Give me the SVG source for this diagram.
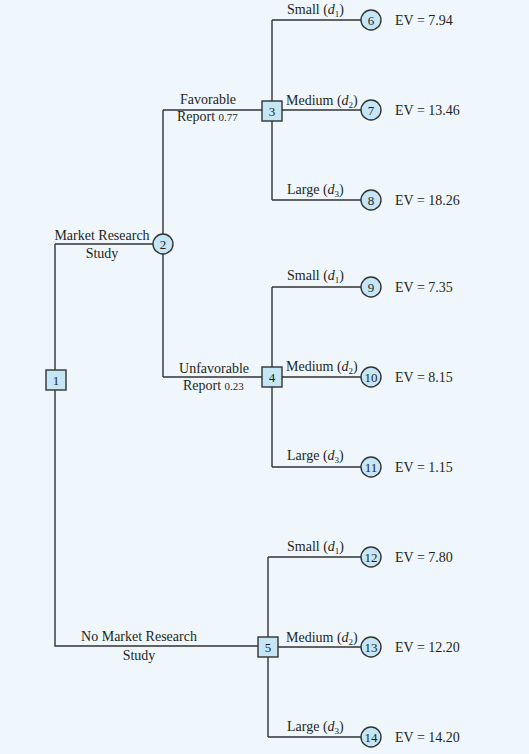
<svg xmlns="http://www.w3.org/2000/svg" width="529" height="754" viewBox="0 0 529 754">
<style>
.bg{fill:#eff7fd}
.ln{fill:none;stroke:#333;stroke-width:1.4}
.nd{fill:#c6e6f6;stroke:#333;stroke-width:1.4}
text{font-family:"Liberation Serif","Times New Roman",serif;fill:#231f20;font-size:14px}
.num{font-size:13px;text-anchor:middle}
.mid{text-anchor:middle}
.sm{font-size:11px}
.it{font-style:italic}
.sub{font-size:9px}
</style>
<rect class="bg" x="0" y="0" width="529" height="754"/>
<g id="connectors">
<path class="ln" d="M55,244 H153 M55,244 V646 H258"/>
<path class="ln" d="M163,110 V377 M163,110 H262 M163,377 H262"/>
<path class="ln" d="M272,20 V200 M272,20 H361 M282,110 H361 M272,200 H361"/>
<path class="ln" d="M272,287 V467 M272,287 H361 M282,377 H361 M272,467 H361"/>
<path class="ln" d="M268,557 V737 M268,557 H361 M278,647 H361 M268,737 H361"/>
</g>
<g id="labels">
<text class="mid" x="102" y="240">Market Research</text>
<text class="mid" x="102" y="258">Study</text>
<text class="mid" x="208" y="104">Favorable</text>
<text x="177" y="121">Report <tspan class="sm">0.77</tspan></text>
<text class="mid" x="214" y="373">Unfavorable</text>
<text x="183" y="390">Report <tspan class="sm">0.23</tspan></text>
<text class="mid" x="139" y="641">No Market Research</text>
<text class="mid" x="139" y="660">Study</text>
<text x="287" y="14">Small (<tspan class="it">d</tspan><tspan class="sub" dy="3">1</tspan><tspan dy="-3">)</tspan></text>
<text x="286" y="105">Medium (<tspan class="it">d</tspan><tspan class="sub" dy="3">2</tspan><tspan dy="-3">)</tspan></text>
<text x="287" y="194">Large (<tspan class="it">d</tspan><tspan class="sub" dy="3">3</tspan><tspan dy="-3">)</tspan></text>
<text x="287" y="280">Small (<tspan class="it">d</tspan><tspan class="sub" dy="3">1</tspan><tspan dy="-3">)</tspan></text>
<text x="286" y="371">Medium (<tspan class="it">d</tspan><tspan class="sub" dy="3">2</tspan><tspan dy="-3">)</tspan></text>
<text x="287" y="460">Large (<tspan class="it">d</tspan><tspan class="sub" dy="3">3</tspan><tspan dy="-3">)</tspan></text>
<text x="287" y="551">Small (<tspan class="it">d</tspan><tspan class="sub" dy="3">1</tspan><tspan dy="-3">)</tspan></text>
<text x="286" y="642">Medium (<tspan class="it">d</tspan><tspan class="sub" dy="3">2</tspan><tspan dy="-3">)</tspan></text>
<text x="287" y="731">Large (<tspan class="it">d</tspan><tspan class="sub" dy="3">3</tspan><tspan dy="-3">)</tspan></text>
<text x="395" y="25">EV = 7.94</text>
<text x="395" y="115">EV = 13.46</text>
<text x="395" y="205">EV = 18.26</text>
<text x="395" y="292">EV = 7.35</text>
<text x="395" y="382">EV = 8.15</text>
<text x="395" y="472">EV = 1.15</text>
<text x="395" y="562">EV = 7.80</text>
<text x="395" y="652">EV = 12.20</text>
<text x="395" y="742">EV = 14.20</text>
</g>
<g id="node1"><rect class="nd" x="46" y="370" width="20" height="20"/><text class="num" x="56" y="385">1</text></g>
<g id="node2"><circle class="nd" cx="163" cy="244" r="10"/><text class="num" x="163" y="248.5">2</text></g>
<g id="node3"><rect class="nd" x="262" y="101" width="20" height="20"/><text class="num" x="272" y="116">3</text></g>
<g id="node4"><rect class="nd" x="262" y="367" width="20" height="20"/><text class="num" x="272" y="382">4</text></g>
<g id="node5"><rect class="nd" x="258" y="637" width="20" height="20"/><text class="num" x="268" y="652">5</text></g>
<g id="node6"><circle class="nd" cx="371" cy="20" r="10"/><text class="num" x="371" y="24.5">6</text></g>
<g id="node7"><circle class="nd" cx="371" cy="110" r="10"/><text class="num" x="371" y="114.5">7</text></g>
<g id="node8"><circle class="nd" cx="371" cy="200" r="10"/><text class="num" x="371" y="204.5">8</text></g>
<g id="node9"><circle class="nd" cx="371" cy="287" r="10"/><text class="num" x="371" y="291.5">9</text></g>
<g id="node10"><circle class="nd" cx="371" cy="377" r="10"/><text class="num" x="371" y="381.5">10</text></g>
<g id="node11"><circle class="nd" cx="371" cy="467" r="10"/><text class="num" x="371" y="471.5">11</text></g>
<g id="node12"><circle class="nd" cx="371" cy="557" r="10"/><text class="num" x="371" y="561.5">12</text></g>
<g id="node13"><circle class="nd" cx="371" cy="647" r="10"/><text class="num" x="371" y="651.5">13</text></g>
<g id="node14"><circle class="nd" cx="371" cy="737" r="10"/><text class="num" x="371" y="741.5">14</text></g>
</svg>
